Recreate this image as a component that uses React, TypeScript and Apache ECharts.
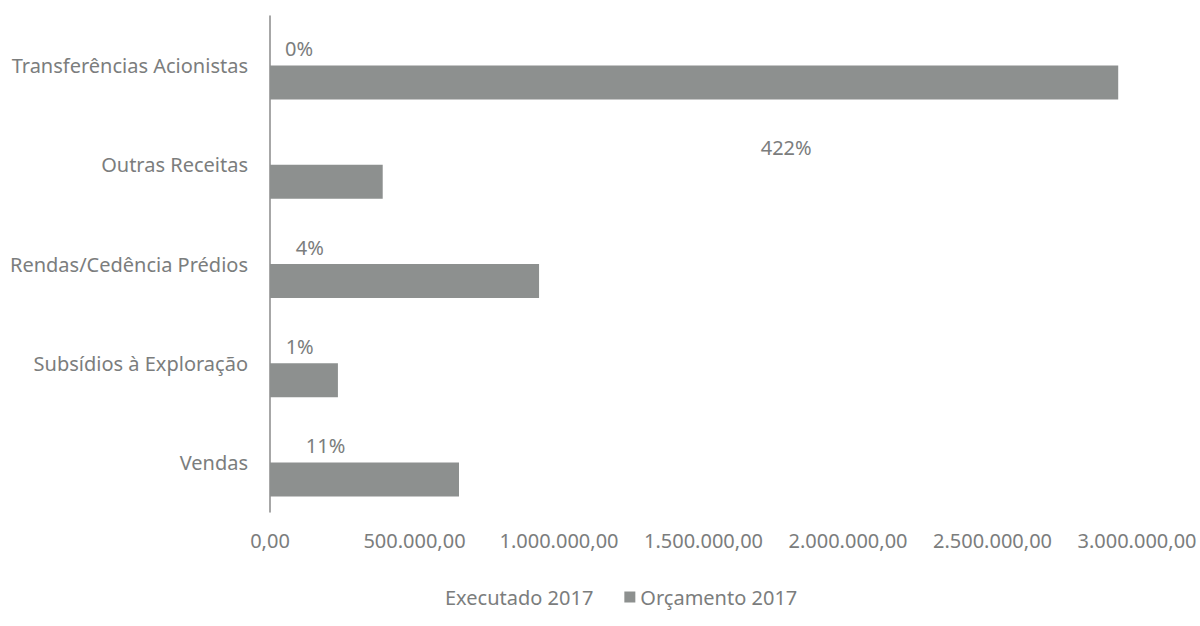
import React, { useEffect, useRef } from "react";
import * as echarts from "echarts";

const categories = [
  "Vendas",
  "Subsídios à Exploração",
  "Rendas/Cedência Prédios",
  "Outras Receitas",
  "Transferências Acionistas",
];
const orcamento2017 = [654000, 235000, 931000, 390000, 2935000];
const executado2017 = [72000, 2300, 37000, 1646000, 0];
const execPercent = ["11%", "1%", "4%", "422%", "0%"];
const xTicks = [0, 500000, 1000000, 1500000, 2000000, 2500000, 3000000];

const fmt = (v: number) => {
  const s = Math.round(v).toString().replace(/\B(?=(\d{3})+(?!\d))/g, ".");
  return s + ",00";
};

const FONT = "'Noto Sans', sans-serif";
const TXT = "#7b7d7d";

export default function App() {
  const ref = useRef<HTMLDivElement>(null);
  useEffect(() => {
    if (!ref.current) return;
    const chart = echarts.init(ref.current, undefined, { renderer: "svg" });
    chart.setOption({
      animation: false,
      backgroundColor: "#ffffff",
      textStyle: { fontFamily: FONT },
      grid: { left: 270, right: 63, top: 16, bottom: 114, containLabel: false },
      legend: {
        bottom: 14,
        left: 424,
        data: ["Executado 2017", "Orçamento 2017"],
        itemWidth: 11,
        itemHeight: 11,
        itemGap: 31,
        icon: "rect",
        textStyle: { color: TXT, fontSize: 20, fontFamily: FONT },
      },
      xAxis: {
        type: "value",
        min: xTicks[0],
        max: xTicks[xTicks.length - 1],
        interval: 500000,
        axisLine: { show: false },
        axisTick: { show: false },
        splitLine: { show: false },
        axisLabel: {
          color: TXT,
          fontSize: 20,
          margin: 18,
          formatter: (v: number) => fmt(v),
        },
      },
      yAxis: {
        type: "category",
        data: categories,
        axisLine: { show: true, lineStyle: { color: "#8a8a8a", width: 1.5 } },
        axisTick: { show: false },
        axisLabel: { color: TXT, fontSize: 20, margin: 22 },
      },
      series: [
        {
          name: "Executado 2017",
          type: "bar",
          data: executado2017,
          barWidth: 34,
          barGap: "0%",
          itemStyle: { color: "rgba(255,255,255,0)" },
          label: {
            show: true,
            position: "right",
            distance: 15,
            color: TXT,
            fontSize: 20,
            fontFamily: FONT,
            formatter: (p: any) => execPercent[p.dataIndex],
          },
        },
        {
          name: "Orçamento 2017",
          type: "bar",
          data: orcamento2017,
          barWidth: 34,
          barGap: "0%",
          itemStyle: { color: "#8d908f" },
        },
      ],
    });
    return () => chart.dispose();
  }, []);
  return (
    <div
      ref={ref}
      style={{ position: "fixed", left: 0, top: 0, width: 1200, height: 626 }}
    />
  );
}
